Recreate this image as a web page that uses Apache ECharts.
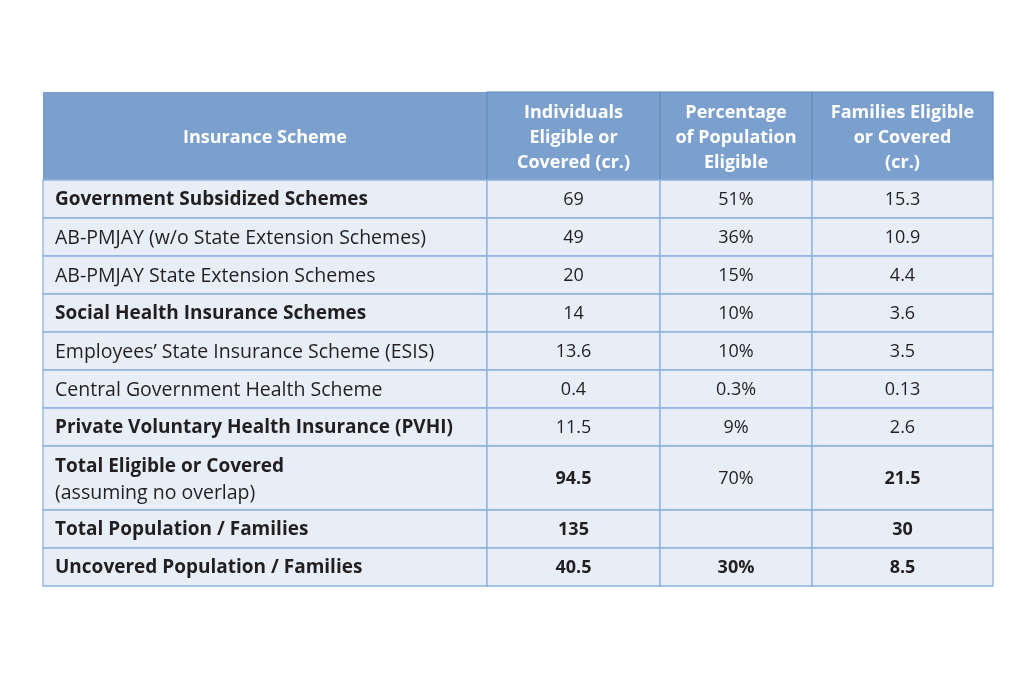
<!DOCTYPE html>
<html>
<head>
<meta charset="utf-8">
<script src="https://cdn.jsdelivr.net/npm/echarts@6/dist/echarts.min.js"></script>
<style>
  html, body { margin: 0; padding: 0; background: #ffffff; }
  #tabla { width: 1024px; height: 683px; }
</style>
</head>
<body>
<div id="tabla"></div>
<script>
// datos de la tabla
const encabezados = [
    "Insurance Scheme",
    "Individuals\nEligible or\nCovered (cr.)",
    "Percentage\nof Population\nEligible",
    "Families Eligible\nor Covered\n(cr.)"
];

const esquemas = [
    "Government Subsidized Schemes",
    "AB-PMJAY (w/o State Extension Schemes)",
    "AB-PMJAY State Extension Schemes",
    "Social Health Insurance Schemes",
    "Employees\u2019 State Insurance Scheme (ESIS)",
    "Central Government Health Scheme",
    "Private Voluntary Health Insurance (PVHI)",
    "Total Eligible or Covered",
    "Total Population / Families",
    "Uncovered Population / Families"
];

const notas = ["", "", "", "", "", "", "", "(assuming no overlap)", "", ""];

const individuos = [69, 49, 20, 14, 13.6, 0.4, 11.5, 94.5, 135, 40.5];
const porcentaje = [51, 36, 15, 10, 10, 0.3, 9, 70, null, 30];
const familias = [15.3, 10.9, 4.4, 3.6, 3.5, 0.13, 2.6, 21.5, 30, 8.5];

// estilos: filas con etiqueta en negrita y celdas numericas en negrita
const filasNegrita = [0, 3, 6, 7, 8, 9];
const celdasNegrita = { "7-1": true, "7-3": true, "8-1": true, "8-3": true, "9-1": true, "9-2": true, "9-3": true };

// layout (en unidades de eje = pixeles de la tabla)
const bordesCol = [0, 444, 617, 769, 950];
const altoEncabezado = 88;
const altoFila = 38;
const altoFilaDoble = 64;

const bordesFila = [0, altoEncabezado];
esquemas.forEach((e, i) => {
    const alto = notas[i] ? altoFilaDoble : altoFila;
    bordesFila.push(bordesFila[bordesFila.length - 1] + alto);
});
const altoTotal = bordesFila[bordesFila.length - 1];

const fuente = "'Open Sans', 'DejaVu Sans', sans-serif";
const colorTexto = "#231f20";
const colorBorde = "#8fb1de";

function fuenteEtiqueta(negrita) {
    return negrita ? "bold 19px " + fuente : "19.5px " + fuente;
}

function fuenteNumero(negrita) {
    return (negrita ? "bold " : "") + "18px " + fuente;
}

function formato(col, fila) {
    if (col === 0) return esquemas[fila];
    if (col === 1) return individuos[fila] == null ? "" : String(individuos[fila]);
    if (col === 2) return porcentaje[fila] == null ? "" : porcentaje[fila] + "%";
    return familias[fila] == null ? "" : String(familias[fila]);
}

// una celda por item: [col, fila] (fila -1 = encabezado)
const celdas = [];
for (let c = 0; c < 4; c++) celdas.push([c, -1]);
esquemas.forEach((e, f) => {
    for (let c = 0; c < 4; c++) celdas.push([c, f]);
});

function dibujarCelda(params, api) {
    const col = api.value(0);
    const fila = api.value(1);
    const r = fila + 1;
    const p0 = api.coord([bordesCol[col], bordesFila[r]]);
    const p1 = api.coord([bordesCol[col + 1], bordesFila[r + 1]]);
    const x = p0[0], y = p0[1], w = p1[0] - p0[0], h = p1[1] - p0[1];
    const hijos = [];

    if (fila < 0) {
        hijos.push({
            type: "rect",
            shape: { x: x, y: y, width: w, height: h },
            style: { fill: "#7ba0ce", stroke: col === 0 ? null : "#5f8cc6", lineWidth: 1.2 }
        });
        hijos.push({
            type: "text",
            style: {
                text: encabezados[col],
                x: x + w / 2,
                y: y + h / 2 + 2,
                align: "center",
                verticalAlign: "middle",
                fill: "#ffffff",
                font: "bold 18px " + fuente,
                lineHeight: 25
            }
        });
        return { type: "group", children: hijos };
    }

    hijos.push({
        type: "rect",
        shape: { x: x, y: y, width: w, height: h },
        style: { fill: "#e7eef7", stroke: colorBorde, lineWidth: 1.3 }
    });

    if (col === 0) {
        const negrita = filasNegrita.indexOf(fila) >= 0;
        if (notas[fila]) {
            hijos.push({
                type: "text",
                style: {
                    text: esquemas[fila], x: x + 12, y: y + h / 2 - 11,
                    align: "left", verticalAlign: "middle",
                    fill: colorTexto, font: fuenteEtiqueta(negrita)
                }
            });
            hijos.push({
                type: "text",
                style: {
                    text: notas[fila], x: x + 12, y: y + h / 2 + 15,
                    align: "left", verticalAlign: "middle",
                    fill: colorTexto, font: fuenteEtiqueta(false)
                }
            });
        } else {
            hijos.push({
                type: "text",
                style: {
                    text: esquemas[fila], x: x + 12, y: y + h / 2 + 1,
                    align: "left", verticalAlign: "middle",
                    fill: colorTexto, font: fuenteEtiqueta(negrita)
                }
            });
        }
    } else {
        const negrita = celdasNegrita[fila + "-" + col];
        hijos.push({
            type: "text",
            style: {
                text: formato(col, fila), x: x + w / 2, y: y + h / 2 + 1,
                align: "center", verticalAlign: "middle",
                fill: colorTexto, font: fuenteNumero(negrita)
            }
        });
    }
    return { type: "group", children: hijos };
}

const contenedor = document.getElementById("tabla");
const miTabla = echarts.init(contenedor, null, { renderer: "canvas" });

const opciones = {
    backgroundColor: "#ffffff",
    animation: false,
    grid: { left: 43, right: 31, top: 92, bottom: 683 - 92 - altoTotal },
    xAxis: { type: "value", min: 0, max: bordesCol[4], show: false },
    yAxis: { type: "value", min: 0, max: altoTotal, inverse: true, show: false },
    series: [
        {
            type: "custom",
            renderItem: dibujarCelda,
            data: celdas,
            clip: false
        }
    ]
};

miTabla.setOption(opciones);
</script>
</body>
</html>
